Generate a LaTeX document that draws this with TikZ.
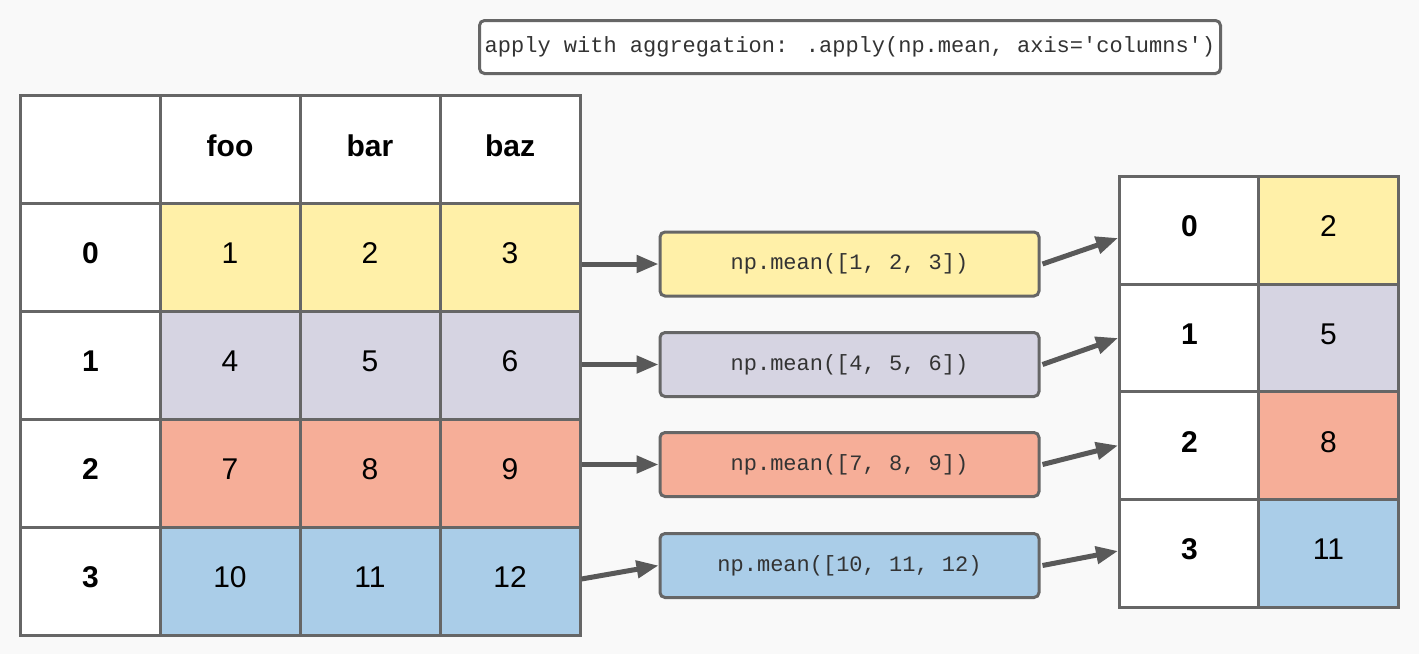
\documentclass[tikz,border=0pt]{standalone}
\usepackage{fontspec}
\setmainfont{Liberation Sans}
\newfontfamily\codefont{Liberation Mono}
\usetikzlibrary{arrows.meta}
\definecolor{bgc}{HTML}{F9F9F9}
\definecolor{edgec}{HTML}{666666}
\definecolor{arrc}{HTML}{595959}
\definecolor{ylw}{HTML}{FFF0A8}
\definecolor{lav}{HTML}{D6D4E2}
\definecolor{sal}{HTML}{F6AE98}
\definecolor{blu}{HTML}{AACDE8}
\definecolor{txtc}{HTML}{333333}
\tikzset{
  cell/.style={draw=edgec, line width=3pt, fill=white, minimum width=140pt, minimum height=108pt, inner sep=0pt, text height=21.5pt, text depth=8.5pt, font=\fontsize{30}{34}\selectfont},
  hcell/.style={cell, font=\fontsize{30}{34}\selectfont\bfseries},
  mbox/.style={draw=edgec, line width=3pt, rounded corners=5pt, minimum width=379pt, minimum height=64pt, inner sep=0pt, font=\codefont\fontsize{22}{26}\selectfont, text=txtc},
  arr/.style={draw=arrc, line width=5pt, -{Triangle[length=22pt, width=17pt]}}
}
\begin{document}
\begin{tikzpicture}[x=1pt, y=-1pt]
\fill[bgc] (0,0) rectangle (1419,654);
\useasboundingbox (0,0) rectangle (1419,654);
% title box
\node[draw=edgec, line width=3pt, rounded corners=5pt, fill=white, minimum width=741pt, minimum height=53pt, inner sep=0pt, font=\codefont\fontsize{22}{26}\selectfont, text=txtc] (title) at (850,47) {apply with aggregation: .apply(np.mean, axis='columns')};
% left table
\node[cell] (h0) at (90.5,149.5) {};
\node[hcell] (h1) at (230,149.5) {foo};
\node[hcell] (h2) at (370,149.5) {bar};
\node[hcell] (h3) at (510,149.5) {baz};
% rows
\node[hcell] (i0) at (90.5,257) {0};
\node[cell, fill=ylw] (c01) at (230,257) {1};
\node[cell, fill=ylw] (c02) at (370,257) {2};
\node[cell, fill=ylw] (c03) at (510,257) {3};
\node[hcell] (i1) at (90.5,365) {1};
\node[cell, fill=lav] (c11) at (230,365) {4};
\node[cell, fill=lav] (c12) at (370,365) {5};
\node[cell, fill=lav] (c13) at (510,365) {6};
\node[hcell] (i2) at (90.5,473) {2};
\node[cell, fill=sal] (c21) at (230,473) {7};
\node[cell, fill=sal] (c22) at (370,473) {8};
\node[cell, fill=sal] (c23) at (510,473) {9};
\node[hcell] (i3) at (90.5,581) {3};
\node[cell, fill=blu] (c31) at (230,581) {10};
\node[cell, fill=blu] (c32) at (370,581) {11};
\node[cell, fill=blu] (c33) at (510,581) {12};
% middle boxes
\node[mbox, fill=ylw] (m0) at (849.5,264) {np.mean([1, 2, 3])};
\node[mbox, fill=lav] (m1) at (849.5,364.5) {np.mean([4, 5, 6])};
\node[mbox, fill=sal] (m2) at (849.5,464.5) {np.mean([7, 8, 9])};
\node[mbox, fill=blu] (m3) at (849.5,565.5) {np.mean([10, 11, 12)};
% right table
\node[hcell] (r0) at (1189.5,230) {0};
\node[cell, fill=ylw] (v0) at (1328.5,230) {2};
\node[hcell] (r1) at (1189.5,338) {1};
\node[cell, fill=lav] (v1) at (1328.5,338) {5};
\node[hcell] (r2) at (1189.5,445.5) {2};
\node[cell, fill=sal] (v2) at (1328.5,445.5) {8};
\node[hcell] (r3) at (1189.5,553) {3};
\node[cell, fill=blu] (v3) at (1328.5,553) {11};
% arrows left -> middle
\draw[arr] (c03.east |- m0.west) -- (m0.west);
\draw[arr] (c13.east |- m1.west) -- (m1.west);
\draw[arr] (c23.east |- m2.west) -- (m2.west);
\draw[arr] ([yshift=2pt]c33.east) -- (m3.west);
% arrows middle -> right
\draw[arr] ([xshift=2pt]m0.east) -- ([yshift=-8pt]r0.west);
\draw[arr] ([xshift=2pt]m1.east) -- (r1.west);
\draw[arr] ([xshift=2pt]m2.east) -- (r2.west);
\draw[arr] ([xshift=2pt]m3.east) -- ([yshift=2pt]r3.west);
\end{tikzpicture}
\end{document}
